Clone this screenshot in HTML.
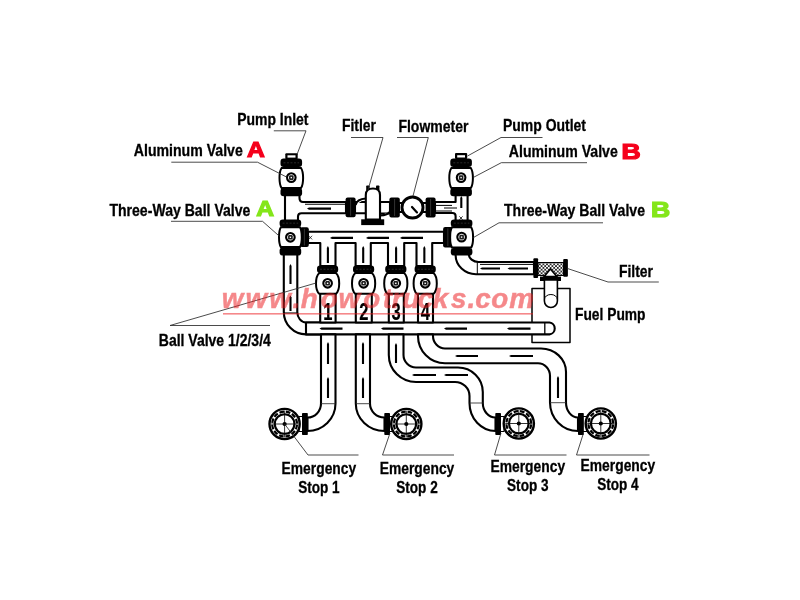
<!DOCTYPE html>
<html lang="en">
<head>
<meta charset="utf-8">
<title>Fuel pump piping diagram</title>
<style>
html,body{margin:0;padding:0;background:#fff;}
body{width:800px;height:600px;overflow:hidden;}
svg{display:block;will-change:transform;}
text{font-family:"Liberation Sans",sans-serif;font-weight:bold;stroke:#000;stroke-width:0.3px;}
text.r{fill:#f5001c;stroke:#f5001c;stroke-width:1.2px;}
text.g{fill:#84e61a;stroke:#84e61a;stroke-width:1.2px;}
text.wm{fill:#ec1c20;stroke:#ec1c20;stroke-width:0.5px;font-style:italic;}
text.d{stroke-width:0.2px;}
.p{fill:none;stroke:#000;stroke-width:2.1;stroke-linejoin:round;stroke-linecap:butt;}
.pw{fill:#fff;stroke:#000;stroke-width:2.1;stroke-linejoin:round;}
.l{fill:none;stroke:#2a2a2a;stroke-width:0.85;}
</style>
</head>
<body>
<svg width="800" height="600" viewBox="0 0 800 600">
<defs>
<filter id="gs" x="0" y="0" width="800" height="600" filterUnits="userSpaceOnUse"><feOffset dx="0" dy="0"/></filter>
<pattern id="hatch" x="538" y="262.5" width="3.6" height="3.6" patternUnits="userSpaceOnUse">
<path d="M0,0L3.6,3.6M3.6,0L0,3.6" stroke="#000" stroke-width="0.75"/>
</pattern>
</defs>
<rect width="800" height="600" fill="#fff"/>

<!-- pipes -->
<path class="pw" d="M285,195 V221 H298 V216.5 Q298,213.3 301.5,213.3 H346 V202 H303 Q299.5,202 299.5,198 V195 Z"/>
<path class="p" d="M346,204.3 H305" style="stroke-width:1.1"/>
<path class="pw" d="M355,202 H366 V213.3 H355 Z"/>
<path class="pw" d="M380,202 H390 V213.5 H380 Z"/>
<path class="pw" d="M399,203 H403 V212 H399 Z"/>
<path class="pw" d="M422,203 H427 V212 H422 Z"/>
<path class="pw" d="M435,202 H455.6 V194.5 H467.6 V221.3 H455.6 V216 Q455.6,213 452.5,213 H435 Z"/>
<path class="p" d="M435,205.4 H452 M444,208 H457 M435,211 H452" style="stroke-width:1"/>
<path class="pw" d="M308,231.7 H444 V243 H432.2 V266 H416.5 V243 H404.2 V266 H388 V243 H370.8 V266 H355.6 V243 H335.5 V266 H320.3 V243 H308 Z"/>
<path d="M308.5,235.8 l3.6,3.6 m0,-3.6 l-3.6,3.6 M459.3,216.3 l3.4,3.4 m0,-3.4 l-3.4,3.4" stroke="#111" stroke-width="0.8" fill="none"/>
<path class="pw" d="M283.8,253 V312 A22.2,22.4 0 0 0 306,334.4 H320 V322.5 H306 A8.7,10.5 0 0 1 297.3,312 V253 Z"/>
<path class="pw" d="M306,322.5 H549.5 A6,6 0 0 1 549.5,334.4 H306 Z"/>
<path class="p" d="M544.8,323 V334" style="stroke-width:1.3"/>
<path class="p" d="M306,322.5 V334.4" style="stroke-width:1.6"/>
<path class="p" d="M284,313 H297.3" style="stroke-width:1.1"/>
<path class="pw" d="M320.2,292 V322.5 H335.6 V292 Z"/>
<path class="pw" d="M355.8,292 V322.5 H371.8 V292 Z"/>
<path class="pw" d="M388.8,292 V322.5 H403.8 V292 Z"/>
<path class="pw" d="M418,292 V322.5 H433 V292 Z"/>
<path class="pw" d="M321,334.4 V403.5 A13.5,14 0 0 1 307.5,417.5 V431 A28,27.5 0 0 0 335.5,403.5 V334.4 Z"/>
<path class="l" d="M321,403.7 H335.5"/>
<path class="pw" d="M355.8,334.4 V403.5 A28.7,27.5 0 0 0 384.5,431 V417.5 A14.5,14 0 0 1 370,403.5 V334.4 Z"/>
<path class="l" d="M355.8,403.7 H370"/>
<path class="pw" d="M388.8,334.4 V355 A27.2,27 0 0 0 416,382 H455 A14.5,14 0 0 1 469.5,396 V403 A26,28 0 0 0 495.5,431 V417.5 A12.7,14.5 0 0 1 482.8,403 V392 A24.8,24.5 0 0 0 458,367.5 H416 A12.5,12.5 0 0 1 403.5,355 V334.4 Z"/>
<path class="l" d="M469.5,403 H482.8"/>
<path class="pw" d="M418,334.4 V336 A27,27.3 0 0 0 445,363.3 H538 A12,12.7 0 0 1 550,376 V402.5 A28,28.5 0 0 0 578,431 V417.5 A12,15 0 0 1 566,402.5 V372 A25,23.5 0 0 0 541,348.5 H445 A12,12.5 0 0 1 433,336 V334.4 Z"/>
<path class="l" d="M550,402.7 H566"/>
<rect x="302" y="413" width="5.800000000000011" height="22" rx="0.8" fill="#000"/>
<rect x="384.3" y="413" width="5.699999999999989" height="22" rx="0.8" fill="#000"/>
<rect x="495.3" y="413" width="5.699999999999989" height="22" rx="0.8" fill="#000"/>
<rect x="578" y="413" width="5.7999999999999545" height="22" rx="0.8" fill="#000"/>
<rect x="299" y="416.5" width="3.5" height="15" fill="#fff" stroke="#000" stroke-width="1"/>
<rect x="389.5" y="416.5" width="3.5" height="15" fill="#fff" stroke="#000" stroke-width="1"/>
<rect x="500.5" y="416.5" width="3.5" height="15" fill="#fff" stroke="#000" stroke-width="1"/>
<rect x="583.3" y="416.5" width="3.5" height="15" fill="#fff" stroke="#000" stroke-width="1"/>
<g transform="translate(284.6,424)"><circle r="15.1" fill="#fff" stroke="#000" stroke-width="2.4"/><circle r="12.4" fill="none" stroke="#000" stroke-width="2.2" stroke-dasharray="4.6 1.893" transform="rotate(4)"/><circle r="9.8" fill="#fff" stroke="#000" stroke-width="2.1"/><path d="M-13.5,0H13.5M0,-13.5V13.5" stroke="#000" stroke-width="0.8"/><circle r="2.1" fill="#000"/></g>
<g transform="translate(406.3,424)"><circle r="15.1" fill="#fff" stroke="#000" stroke-width="2.4"/><circle r="12.4" fill="none" stroke="#000" stroke-width="2.2" stroke-dasharray="4.6 1.893" transform="rotate(4)"/><circle r="9.8" fill="#fff" stroke="#000" stroke-width="2.1"/><path d="M-13.5,0H13.5M0,-13.5V13.5" stroke="#000" stroke-width="0.8"/><circle r="2.1" fill="#000"/></g>
<g transform="translate(518.8,423.5)"><circle r="15.1" fill="#fff" stroke="#000" stroke-width="2.4"/><circle r="12.4" fill="none" stroke="#000" stroke-width="2.2" stroke-dasharray="4.6 1.893" transform="rotate(4)"/><circle r="9.8" fill="#fff" stroke="#000" stroke-width="2.1"/><path d="M-13.5,0H13.5M0,-13.5V13.5" stroke="#000" stroke-width="0.8"/><circle r="2.1" fill="#000"/></g>
<g transform="translate(600.8,423.5)"><circle r="15.1" fill="#fff" stroke="#000" stroke-width="2.4"/><circle r="12.4" fill="none" stroke="#000" stroke-width="2.2" stroke-dasharray="4.6 1.893" transform="rotate(4)"/><circle r="9.8" fill="#fff" stroke="#000" stroke-width="2.1"/><path d="M-13.5,0H13.5M0,-13.5V13.5" stroke="#000" stroke-width="0.8"/><circle r="2.1" fill="#000"/></g>
<path class="pw" d="M455.6,253 V255 A20.4,19.2 0 0 0 476,274.2 H534 V262 H478.5 A9.7,8 0 0 1 468.8,254 V253 Z"/>
<path class="p" d="M477.3,262 V274.2 M480,264.4 H534" style="stroke-width:1"/>
<path class="p" d="M544,288.5 H532 V322.5 M532,334.4 V342.5 H570 V288.5 H557" style="stroke-width:1.5"/>
<rect x="538" y="262.5" width="25.5" height="13" fill="#fff"/>
<rect x="538" y="262.5" width="25.5" height="13" fill="url(#hatch)" stroke="#000" stroke-width="1"/>
<path d="M544.2,276.5 L550.4,269 L556.8,276.5 Z" fill="#fff" stroke="#000" stroke-width="1.6"/>
<rect x="533.4" y="258.2" width="4.7" height="19.8" rx="1" fill="#000"/>
<rect x="563.2" y="259" width="4.7" height="17.8" rx="1" fill="#000"/>
<rect x="540" y="276.6" width="21" height="4.4" fill="#000"/>
<path class="pw" d="M544.4,280 V301 A6.5,6.5 0 0 0 557.4,301 V280 Z" style="stroke-width:1.6"/>
<path class="p" d="M544.4,299.5 A6.5,5 0 0 1 557.4,299.5" style="stroke-width:1"/>
<!-- flow marks -->
<path d="M307,208.6 L309,207.55 L331,207.55 L331,209.64999999999998 L309,209.64999999999998 Z" fill="#000"/>
<path d="M330,237.9 L332,236.85000000000002 L353,236.85000000000002 L353,238.95 L332,238.95 Z" fill="#000"/>
<path d="M366,237.9 L368,236.85000000000002 L389,236.85000000000002 L389,238.95 L368,238.95 Z" fill="#000"/>
<path d="M400,237.9 L402,236.85000000000002 L423,236.85000000000002 L423,238.95 L402,238.95 Z" fill="#000"/>
<path d="M327.9,246 L328.95,248 L328.95,263 L326.84999999999997,263 L326.84999999999997,248 Z" fill="#000"/>
<path d="M363.20000000000005,246 L364.25000000000006,248 L364.25000000000006,263 L362.15000000000003,263 L362.15000000000003,248 Z" fill="#000"/>
<path d="M396.1,246 L397.15000000000003,248 L397.15000000000003,263 L395.05,263 L395.05,248 Z" fill="#000"/>
<path d="M424.35,246 L425.40000000000003,248 L425.40000000000003,263 L423.3,263 L423.3,248 Z" fill="#000"/>
<path d="M290.5,264 L291.55,266 L291.55,284 L289.45,284 L289.45,266 Z" fill="#000"/>
<path d="M290.5,295.5 L291.55,297.5 L291.55,311 L289.45,311 L289.45,297.5 Z" fill="#000"/>
<path d="M319.5,328.6 L321.5,327.55 L342.5,327.55 L342.5,329.65000000000003 L321.5,329.65000000000003 Z" fill="#000"/>
<path d="M381,328.6 L383,327.55 L403.5,327.55 L403.5,329.65000000000003 L383,329.65000000000003 Z" fill="#000"/>
<path d="M444,328.6 L446,327.55 L467,327.55 L467,329.65000000000003 L446,329.65000000000003 Z" fill="#000"/>
<path d="M507,328.6 L509,327.55 L530.5,327.55 L530.5,329.65000000000003 L509,329.65000000000003 Z" fill="#000"/>
<path d="M480,268.5 L482,267.45 L500,267.45 L500,269.55 L482,269.55 Z" fill="#000"/>
<path d="M507.5,268.5 L509.5,267.45 L528,267.45 L528,269.55 L509.5,269.55 Z" fill="#000"/>
<path d="M328,342 L329.05,344 L329.05,364 L326.95,364 L326.95,344 Z" fill="#000"/>
<path d="M328,377 L329.05,379 L329.05,398 L326.95,398 L326.95,379 Z" fill="#000"/>
<path d="M363,342 L364.05,344 L364.05,364 L361.95,364 L361.95,344 Z" fill="#000"/>
<path d="M363,377 L364.05,379 L364.05,398 L361.95,398 L361.95,379 Z" fill="#000"/>
<path d="M396,343 L397.05,345 L397.05,363 L394.95,363 L394.95,345 Z" fill="#000"/>
<path d="M412,375 L414,373.95 L436,373.95 L436,376.05 L414,376.05 Z" fill="#000"/>
<path d="M444,375 L446,373.95 L468,373.95 L468,376.05 L446,376.05 Z" fill="#000"/>
<path d="M455,356 L457,354.95 L478,354.95 L478,357.05 L457,357.05 Z" fill="#000"/>
<path d="M509,356 L511,354.95 L533,354.95 L533,357.05 L511,357.05 Z" fill="#000"/>
<path d="M558,376 L559.0500000000001,378 L559.0500000000001,398 L556.9499999999999,398 L556.9499999999999,378 Z" fill="#000"/>
<path d="M461.3,196 L462.35,198 L462.35,208 L460.25,208 L460.25,198 Z" fill="#000"/>
<!-- valves -->
<rect x="285.3" y="153.3" width="12.4" height="6" rx="1" fill="#000"/><rect x="287.5" y="155.3" width="8" height="2.3" fill="#fff"/>
<g transform="translate(291.3,177.6)"><path d="M-9.700000000000001,-9.6 C-12.5,-5.6 -12.5,6.4 -9.700000000000001,10.4 L9.700000000000001,10.4 C12.5,6.4 12.5,-5.6 9.700000000000001,-9.6 Z" fill="#fff" stroke="#000" stroke-width="2.0"/><rect x="-10.8" y="-19" width="21.6" height="8.4" rx="3.2" fill="#000"/><line x1="-7.800000000000001" y1="-14.8" x2="7.800000000000001" y2="-14.8" stroke="#444" stroke-width="0.6" stroke-dasharray="2 1.5"/><rect x="-10.8" y="10.4" width="21.6" height="8.200000000000001" rx="3" fill="#000"/><circle cx="0" cy="0" r="4.3" fill="#fff" stroke="#000" stroke-width="2.1"/><rect x="-2.3" y="-2.3" width="4.6" height="4.6" rx="1.2" fill="#1c1c1c"/><rect x="-0.7" y="-0.7" width="1.4" height="1.4" fill="#fff"/></g>
<rect x="300" y="227.3" width="8.800000000000011" height="19.69999999999999" rx="2" fill="#000"/><line x1="304.4" y1="228.8" x2="304.4" y2="245.5" stroke="#555" stroke-width="0.6"/>
<g transform="translate(290.4,237.3)"><path d="M-9.5,-10 C-12.0,-6 -12.0,5.800000000000001 -9.5,9.8 L9.5,9.8 C12.0,5.800000000000001 12.0,-6 9.5,-10 Z" fill="#fff" stroke="#000" stroke-width="2.0"/><rect x="-10.8" y="-17.9" width="21.6" height="7.499999999999998" rx="3.2" fill="#000"/><line x1="-7.800000000000001" y1="-14.149999999999999" x2="7.800000000000001" y2="-14.149999999999999" stroke="#444" stroke-width="0.6" stroke-dasharray="2 1.5"/><rect x="-10.8" y="10.2" width="21.6" height="8.100000000000001" rx="3" fill="#000"/><circle cx="0" cy="0" r="4.3" fill="#fff" stroke="#000" stroke-width="2.1"/><rect x="-2.3" y="-2.3" width="4.6" height="4.6" rx="1.2" fill="#1c1c1c"/><rect x="-0.7" y="-0.7" width="1.4" height="1.4" fill="#fff"/></g>
<rect x="455" y="153.1" width="12.2" height="6" rx="1" fill="#000"/><rect x="457.2" y="155.2" width="7.8" height="2.3" fill="#fff"/>
<g transform="translate(461.1,177.6)"><path d="M-9.700000000000001,-9.6 C-12.5,-5.6 -12.5,6.4 -9.700000000000001,10.4 L9.700000000000001,10.4 C12.5,6.4 12.5,-5.6 9.700000000000001,-9.6 Z" fill="#fff" stroke="#000" stroke-width="2.0"/><rect x="-10.8" y="-19" width="21.6" height="8.4" rx="3.2" fill="#000"/><line x1="-7.800000000000001" y1="-14.8" x2="7.800000000000001" y2="-14.8" stroke="#444" stroke-width="0.6" stroke-dasharray="2 1.5"/><rect x="-10.8" y="10.4" width="21.6" height="8.200000000000001" rx="3" fill="#000"/><circle cx="0" cy="0" r="4.3" fill="#fff" stroke="#000" stroke-width="2.1"/><rect x="-2.3" y="-2.3" width="4.6" height="4.6" rx="1.2" fill="#1c1c1c"/><rect x="-0.7" y="-0.7" width="1.4" height="1.4" fill="#fff"/></g>
<rect x="443.1" y="226.9" width="9.5" height="20.599999999999994" rx="2" fill="#000"/><line x1="447.85" y1="228.4" x2="447.85" y2="246.0" stroke="#555" stroke-width="0.6"/>
<g transform="translate(461.6,237.1)"><path d="M-9.600000000000001,-9.8 C-12.100000000000001,-5.800000000000001 -12.100000000000001,6.5 -9.600000000000001,10.5 L9.600000000000001,10.5 C12.100000000000001,6.5 12.100000000000001,-5.800000000000001 9.600000000000001,-9.8 Z" fill="#fff" stroke="#000" stroke-width="2.0"/><rect x="-10.8" y="-17.7" width="21.6" height="7.5" rx="3.2" fill="#000"/><line x1="-7.800000000000001" y1="-13.95" x2="7.800000000000001" y2="-13.95" stroke="#444" stroke-width="0.6" stroke-dasharray="2 1.5"/><rect x="-10.8" y="10.8" width="21.6" height="7.699999999999999" rx="3" fill="#000"/><circle cx="0" cy="0" r="4.3" fill="#fff" stroke="#000" stroke-width="2.1"/><rect x="-2.3" y="-2.3" width="4.6" height="4.6" rx="1.2" fill="#1c1c1c"/><rect x="-0.7" y="-0.7" width="1.4" height="1.4" fill="#fff"/></g>
<g transform="translate(327.6,283.3)"><path d="M-8.3,-10.3 C-12.7,-6.300000000000001 -12.7,6.5 -8.3,10.5 L8.3,10.5 C12.7,6.5 12.7,-6.300000000000001 8.3,-10.3 Z" fill="#fff" stroke="#000" stroke-width="2.0"/><rect x="-10.6" y="-17.8" width="21.2" height="7.5" rx="3.2" fill="#000"/><line x1="-7.6" y1="-14.05" x2="7.6" y2="-14.05" stroke="#444" stroke-width="0.6" stroke-dasharray="2 1.5"/><circle cx="0" cy="0" r="4.3" fill="#fff" stroke="#000" stroke-width="2.1"/><rect x="-2.3" y="-2.3" width="4.6" height="4.6" rx="1.2" fill="#1c1c1c"/><rect x="-0.7" y="-0.7" width="1.4" height="1.4" fill="#fff"/></g>
<g transform="translate(363.6,283.3)"><path d="M-8.3,-10.3 C-12.7,-6.300000000000001 -12.7,6.5 -8.3,10.5 L8.3,10.5 C12.7,6.5 12.7,-6.300000000000001 8.3,-10.3 Z" fill="#fff" stroke="#000" stroke-width="2.0"/><rect x="-10.6" y="-17.8" width="21.2" height="7.5" rx="3.2" fill="#000"/><line x1="-7.6" y1="-14.05" x2="7.6" y2="-14.05" stroke="#444" stroke-width="0.6" stroke-dasharray="2 1.5"/><circle cx="0" cy="0" r="4.3" fill="#fff" stroke="#000" stroke-width="2.1"/><rect x="-2.3" y="-2.3" width="4.6" height="4.6" rx="1.2" fill="#1c1c1c"/><rect x="-0.7" y="-0.7" width="1.4" height="1.4" fill="#fff"/></g>
<g transform="translate(395.8,283.3)"><path d="M-8.3,-10.3 C-12.7,-6.300000000000001 -12.7,6.5 -8.3,10.5 L8.3,10.5 C12.7,6.5 12.7,-6.300000000000001 8.3,-10.3 Z" fill="#fff" stroke="#000" stroke-width="2.0"/><rect x="-10.6" y="-17.8" width="21.2" height="7.5" rx="3.2" fill="#000"/><line x1="-7.6" y1="-14.05" x2="7.6" y2="-14.05" stroke="#444" stroke-width="0.6" stroke-dasharray="2 1.5"/><circle cx="0" cy="0" r="4.3" fill="#fff" stroke="#000" stroke-width="2.1"/><rect x="-2.3" y="-2.3" width="4.6" height="4.6" rx="1.2" fill="#1c1c1c"/><rect x="-0.7" y="-0.7" width="1.4" height="1.4" fill="#fff"/></g>
<g transform="translate(425.2,283.3)"><path d="M-8.3,-10.3 C-12.7,-6.300000000000001 -12.7,6.5 -8.3,10.5 L8.3,10.5 C12.7,6.5 12.7,-6.300000000000001 8.3,-10.3 Z" fill="#fff" stroke="#000" stroke-width="2.0"/><rect x="-10.6" y="-17.8" width="21.2" height="7.5" rx="3.2" fill="#000"/><line x1="-7.6" y1="-14.05" x2="7.6" y2="-14.05" stroke="#444" stroke-width="0.6" stroke-dasharray="2 1.5"/><circle cx="0" cy="0" r="4.3" fill="#fff" stroke="#000" stroke-width="2.1"/><rect x="-2.3" y="-2.3" width="4.6" height="4.6" rx="1.2" fill="#1c1c1c"/><rect x="-0.7" y="-0.7" width="1.4" height="1.4" fill="#fff"/></g>
<rect x="345.6" y="197.5" width="10.0" height="19.80000000000001" rx="2" fill="#000"/><line x1="350.6" y1="199.0" x2="350.6" y2="215.8" stroke="#555" stroke-width="0.6"/>
<rect x="389.4" y="197.5" width="10.400000000000034" height="20.0" rx="2" fill="#000"/><line x1="394.6" y1="199.0" x2="394.6" y2="216.0" stroke="#555" stroke-width="0.6"/>
<rect x="425.6" y="197.5" width="10.0" height="20.0" rx="2" fill="#000"/><line x1="430.6" y1="199.0" x2="430.6" y2="216.0" stroke="#555" stroke-width="0.6"/>
<path class="pw" d="M355.6,205 Q357,199 365.8,198.5 M380,215.5 Q388,215 389.4,212"/>
<rect x="366.2" y="185.5" width="3.4" height="5" rx="0.8" fill="#000"/><rect x="376" y="185.5" width="3.4" height="5" rx="0.8" fill="#000"/>
<path class="pw" d="M365.8,219.5 V195 Q365.8,188.5 373,188.5 Q380,188.5 380,195 V219.5 Z"/>
<rect x="361.2" y="219.3" width="23" height="5.8" fill="#000"/>
<circle cx="412.5" cy="207.5" r="10.5" fill="#fff" stroke="#000" stroke-width="2.9"/>
<path d="M412,207 L417,212.4" stroke="#000" stroke-width="2.2" stroke-linecap="round"/>
<g filter="url(#gs)">
<text x="327.8" y="319.8" font-size="23" text-anchor="middle" fill="#000" textLength="9.2" lengthAdjust="spacingAndGlyphs" class="d">1</text>
<text x="363.8" y="319.8" font-size="23" text-anchor="middle" fill="#000" textLength="9.2" lengthAdjust="spacingAndGlyphs" class="d">2</text>
<text x="396" y="319.8" font-size="23" text-anchor="middle" fill="#000" textLength="9.2" lengthAdjust="spacingAndGlyphs" class="d">3</text>
<text x="425.3" y="319.8" font-size="23" text-anchor="middle" fill="#000" textLength="9.2" lengthAdjust="spacingAndGlyphs" class="d">4</text>
</g>
<!-- leaders -->
<path class="l" d="M273.8,130.8 H306 L297,154.5"/>
<path class="l" d="M171.3,162.2 H257.5 L286.5,177"/>
<path class="l" d="M171,221.3 H262.5 L279.5,236.3"/>
<path class="l" d="M351,137.5 H383 L368,190"/>
<path class="l" d="M397,137.5 H428.3 L413,196"/>
<path class="l" d="M542.5,137.5 H501 L467.5,156"/>
<path class="l" d="M587,162.7 H501.3 L473.8,177.2"/>
<path class="l" d="M603,222.8 H499 L473.5,237.5"/>
<path class="l" d="M658.8,282 H608 L567.5,268.5"/>
<path class="l" d="M270,325.5 H170 L316,283"/>
<path class="l" d="M284.6,424 L308,455 H358.5"/>
<path class="l" d="M390,433 L382.5,455 H454"/>
<path class="l" d="M501,433 L494.5,455 H566.5"/>
<path class="l" d="M583.5,433 L576.5,455 H649.5"/>
<!-- labels -->
<g filter="url(#gs)">
<text x="237.2" y="124.6" font-size="15.9" text-anchor="start" fill="#000" textLength="71.3" lengthAdjust="spacingAndGlyphs">Pump Inlet</text>
<text x="133.8" y="156" font-size="15.9" text-anchor="start" fill="#000" textLength="109" lengthAdjust="spacingAndGlyphs">Aluminum Valve</text>
<text x="246.9" y="156.5" font-size="21.8" text-anchor="start" fill="#000" textLength="17.8" lengthAdjust="spacingAndGlyphs" class="r">A</text>
<text x="109.4" y="216.4" font-size="15.9" text-anchor="start" fill="#000" textLength="141" lengthAdjust="spacingAndGlyphs">Three-Way Ball Valve</text>
<text x="256.2" y="215.9" font-size="21.8" text-anchor="start" fill="#000" textLength="17.8" lengthAdjust="spacingAndGlyphs" class="g">A</text>
<text x="342" y="130.9" font-size="15.9" text-anchor="start" fill="#000" textLength="34" lengthAdjust="spacingAndGlyphs">Fitler</text>
<text x="398.4" y="132.1" font-size="15.9" text-anchor="start" fill="#000" textLength="70" lengthAdjust="spacingAndGlyphs">Flowmeter</text>
<text x="503" y="131.4" font-size="15.9" text-anchor="start" fill="#000" textLength="83" lengthAdjust="spacingAndGlyphs">Pump Outlet</text>
<text x="508.8" y="157.4" font-size="15.9" text-anchor="start" fill="#000" textLength="109" lengthAdjust="spacingAndGlyphs">Aluminum Valve</text>
<text x="621.6" y="159.2" font-size="22" text-anchor="start" fill="#000" textLength="19.2" lengthAdjust="spacingAndGlyphs" class="r">B</text>
<text x="504" y="215.5" font-size="15.9" text-anchor="start" fill="#000" textLength="141" lengthAdjust="spacingAndGlyphs">Three-Way Ball Valve</text>
<text x="651" y="216.7" font-size="22" text-anchor="start" fill="#000" textLength="19.2" lengthAdjust="spacingAndGlyphs" class="g">B</text>
<text x="619" y="276.5" font-size="15.9" text-anchor="start" fill="#000" textLength="34" lengthAdjust="spacingAndGlyphs">Filter</text>
<text x="575" y="320.3" font-size="15.9" text-anchor="start" fill="#000" textLength="70.5" lengthAdjust="spacingAndGlyphs">Fuel Pump</text>
<text x="158.8" y="345.6" font-size="15.9" text-anchor="start" fill="#000" textLength="112" lengthAdjust="spacingAndGlyphs">Ball Valve 1/2/3/4</text>
<text x="318.9" y="474.4" font-size="15.9" text-anchor="middle" fill="#000" textLength="74.6" lengthAdjust="spacingAndGlyphs">Emergency</text>
<text x="318.9" y="492.7" font-size="15.9" text-anchor="middle" fill="#000" textLength="41.5" lengthAdjust="spacingAndGlyphs">Stop 1</text>
<text x="417" y="473.9" font-size="15.9" text-anchor="middle" fill="#000" textLength="74.6" lengthAdjust="spacingAndGlyphs">Emergency</text>
<text x="417" y="492.7" font-size="15.9" text-anchor="middle" fill="#000" textLength="41.5" lengthAdjust="spacingAndGlyphs">Stop 2</text>
<text x="527.8" y="472.4" font-size="15.9" text-anchor="middle" fill="#000" textLength="74.6" lengthAdjust="spacingAndGlyphs">Emergency</text>
<text x="527.8" y="491.3" font-size="15.9" text-anchor="middle" fill="#000" textLength="41.5" lengthAdjust="spacingAndGlyphs">Stop 3</text>
<text x="617.9" y="471.4" font-size="15.9" text-anchor="middle" fill="#000" textLength="74.6" lengthAdjust="spacingAndGlyphs">Emergency</text>
<text x="617.9" y="490.2" font-size="15.9" text-anchor="middle" fill="#000" textLength="41.5" lengthAdjust="spacingAndGlyphs">Stop 4</text>
</g>
<!-- watermark -->
<g opacity="0.52" fill="#ec1c20">
<text class="wm" x="221.7 245.5 269.3 292.6 300.7 320.8 338.6 363.3 382.8 391.8 402.4 417.7 432.8 450.9 467.6 475.3 491.3 509.3" y="308.4" font-size="27.8">www.howotrucks.com</text>
<rect x="223" y="313" width="310" height="1.6"/>
</g>
</svg>
</body>
</html>
